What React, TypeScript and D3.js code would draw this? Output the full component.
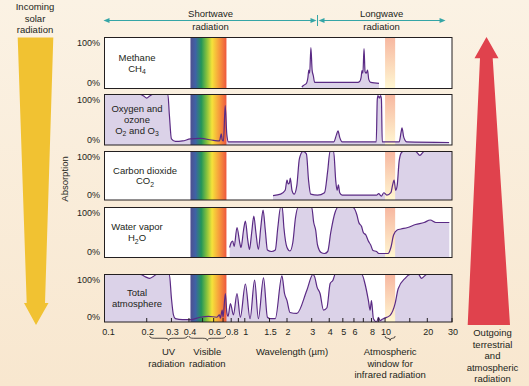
import { area, curveMonotoneX, line, scaleLinear, scaleLog, select } from "d3";
import React, { useEffect, useRef } from "react";

type Pt = [number, number];

// wavelength (µm), absorption (0-1)
const methane: Pt[] = [
    [2.55, 0.03], [2.62, 0.06], [2.75, 0.1], [2.82, 0.22], [2.86, 0.36], [2.9, 0.3],
    [2.96, 0.8], [3.02, 0.36], [3.08, 0.25], [3.15, 0.12], [3.3, 0.12], [6.4, 0.12],
    [6.6, 0.14], [6.75, 0.22], [6.85, 0.35], [6.95, 0.3], [7.08, 0.78], [7.2, 0.33],
    [7.35, 0.3], [7.5, 0.36], [7.65, 0.18], [7.9, 0.12], [9.05, 0.1],
];

const oxygenOzone: Pt[] = [
    [0.1, 1], [0.18, 1], [0.19, 0.97], [0.2, 0.93], [0.21, 0.97], [0.22, 1], [0.283, 1],
    [0.29, 0.6], [0.3, 0.12], [0.32, 0.07], [0.36, 0.08], [0.41, 0.12], [0.48, 0.13],
    [0.6, 0.09], [0.66, 0.08], [0.68, 0.22], [0.69, 0.1], [0.705, 0.08], [0.725, 0.78],
    [0.745, 0.2], [0.765, 0.06], [4.3, 0.06], [4.5, 0.2], [4.62, 0.28], [4.75, 0.15],
    [4.95, 0.06], [8.65, 0.06], [8.8, 0.9], [8.9, 0.98], [9.1, 0.93], [9.3, 0.98],
    [9.42, 0.9], [9.55, 0.06], [12.6, 0.06], [13.0, 0.25], [13.2, 0.34], [13.6, 0.15],
    [14.3, 0.06], [28.6, 0.05],
];

const carbonDioxide: Pt[] = [
    [1.59, 0.09], [1.8, 0.12], [1.94, 0.2], [2.0, 0.41], [2.04, 0.33], [2.08, 0.35],
    [2.11, 0.45], [2.17, 0.2], [2.25, 0.12], [2.35, 0.3], [2.45, 0.85], [2.6, 1.0],
    [2.75, 0.95], [2.85, 0.4], [2.95, 0.12], [3.3, 0.1], [3.7, 0.15], [3.9, 0.6],
    [4.05, 1.0], [4.3, 1.0], [4.45, 0.4], [4.55, 0.2], [4.65, 0.31], [4.75, 0.15],
    [4.95, 0.1], [8.7, 0.1], [9.0, 0.13], [9.4, 0.08], [9.8, 0.15], [10.3, 0.1],
    [11.0, 0.15], [11.3, 0.3], [11.6, 0.41], [11.9, 0.2], [12.2, 0.3], [12.6, 0.8],
    [13.1, 0.98], [13.5, 1], [16.5, 1], [17.7, 0.92], [19, 1], [30, 1],
];

const waterVapor: Pt[] = [
    [0.78, 0.2], [0.8, 0.3], [0.82, 0.33], [0.84, 0.22], [0.88, 0.6], [0.92, 0.3],
    [0.94, 0.2], [0.98, 0.55], [1.01, 0.73], [1.05, 0.35], [1.08, 0.16], [1.12, 0.5],
    [1.16, 0.83], [1.2, 0.5], [1.25, 0.16], [1.3, 0.6], [1.35, 0.95], [1.4, 0.55],
    [1.45, 0.15], [1.55, 0.12], [1.65, 0.15], [1.72, 0.6], [1.8, 1.0], [1.85, 1],
    [1.9, 0.6], [2.0, 0.2], [2.1, 0.13], [2.2, 0.3], [2.3, 0.8], [2.4, 1], [3.0, 1],
    [3.1, 0.7], [3.2, 0.55], [3.3, 0.25], [3.5, 0.1], [3.7, 0.08], [3.9, 0.12],
    [4.1, 0.5], [4.4, 0.9], [4.6, 1], [5.9, 1], [6.3, 0.85], [6.5, 0.7], [6.8, 0.62],
    [7.0, 0.5], [7.3, 0.45], [7.6, 0.33], [7.9, 0.25], [8.2, 0.14], [8.7, 0.12],
    [9.0, 0.08], [10.5, 0.08], [11.0, 0.2], [11.5, 0.45], [12.2, 0.55], [13.0, 0.57],
    [14.5, 0.6], [16.5, 0.66], [19, 0.7], [21, 0.75], [23, 0.7], [28.7, 0.7],
];

const totalAtmosphere: Pt[] = [
    [0.1, 1], [0.18, 1], [0.196, 0.95], [0.21, 0.92], [0.223, 0.96], [0.235, 1],
    [0.29, 1], [0.3, 0.5], [0.31, 0.15], [0.32, 0.07], [0.36, 0.05], [0.41, 0.05],
    [0.48, 0.1], [0.55, 0.12], [0.63, 0.1], [0.66, 0.15], [0.67, 0.08], [0.69, 0.25],
    [0.7, 0.1], [0.727, 0.6], [0.745, 0.2], [0.76, 0.12], [0.79, 0.39], [0.83, 0.15],
    [0.88, 0.6], [0.93, 0.1], [1.01, 0.8], [1.09, 0.07], [1.175, 0.88], [1.25, 0.07],
    [1.36, 0.93], [1.45, 0.1], [1.52, 0.07], [1.65, 0.07], [1.84, 0.97], [1.92, 0.6],
    [2.0, 0.45], [2.1, 0.2], [2.35, 0.18], [2.77, 0.67], [3.06, 1], [3.15, 0.95],
    [3.27, 0.74], [3.44, 0.6], [3.64, 0.25], [3.85, 0.3], [4.06, 0.81], [4.25, 0.88],
    [4.41, 1], [6.82, 1], [7.2, 0.8], [7.61, 0.45], [7.82, 0.25], [8.0, 0.45],
    [8.26, 0.07], [8.73, 0.0], [8.96, 0.1], [9.2, 0.03], [9.48, 0.05], [9.72, 0.07],
    [10.86, 0.14], [11.8, 0.39], [12.4, 0.7], [13.9, 0.92], [15.1, 1], [17.3, 1],
    [18.2, 0.92], [19.8, 1], [30, 1],
];

const series = [methane, oxygenOzone, carbonDioxide, waterVapor, totalAtmosphere];
const panelLabels = [
    ["Methane", "CH_4"],
    ["Oxygen and", "ozone", "O_2 and O_3"],
    ["Carbon dioxide", "CO_2"],
    ["Water vapor", "H_2O"],
    ["Total", "atmosphere"],
];

const tickValues = [0.2, 0.3, 0.4, 0.5, 0.6, 0.7, 0.8, 0.9, 1, 1.5, 2, 3, 4, 5, 6, 7, 8, 9, 10, 15, 20, 30];
const tickLabels = [0.1, 0.2, 0.3, 0.4, 0.6, 0.8, 1, 1.5, 2, 3, 4, 5, 6, 8, 10, 20, 30];

const visibleBand = [0.41, 0.74];
const windowBand = [10, 11.8];
const shortLong = [0.1, 3.3, 27];

const FONT = "'Liberation Sans', Arial, Helvetica, sans-serif";
const INK = "#231f20";

const App: React.FC = () => {
    const svgRef = useRef<SVGSVGElement>(null);

    useEffect(() => {
        const svg = select(svgRef.current);
        svg.selectAll("*").remove();

        const x = scaleLog().domain([0.1, 30]).range([104.5, 452]);
        const panels = [
            [37.5, 88.5],
            [94.5, 145],
            [151.5, 200],
            [207.5, 257.5],
            [274.5, 322],
        ];

        const defs = svg.append("defs");
        const bg = defs.append("linearGradient").attr("id", "bg")
            .attr("x1", 0).attr("y1", 0).attr("x2", 0).attr("y2", 1);
        bg.append("stop").attr("offset", "0%").attr("stop-color", "#fbf2e4");
        bg.append("stop").attr("offset", "100%").attr("stop-color", "#f8e7cf");

        const spec = defs.append("linearGradient").attr("id", "spectrum");
        [
            ["0%", "#4f4f8e"], ["14%", "#3f63a6"], ["30%", "#23955a"],
            ["46%", "#8cc43c"], ["60%", "#f5e23a"], ["78%", "#f7a23c"], ["100%", "#ee573e"],
        ].forEach(([o, c]) => spec.append("stop").attr("offset", o).attr("stop-color", c));

        const win = defs.append("linearGradient").attr("id", "window")
            .attr("x1", 0).attr("y1", 0).attr("x2", 0).attr("y2", 1);
        win.append("stop").attr("offset", "0%").attr("stop-color", "#f7b7a0");
        win.append("stop").attr("offset", "100%").attr("stop-color", "#fff7d2");

        svg.append("rect").attr("width", 529).attr("height", 386).attr("fill", "url(#bg)");

        // big arrows
        svg.append("path")
            .attr("d", "M17.7,37.5 L53.3,37.5 L45,303 L48.5,303 L36,325 L24,303 L26.7,303 Z")
            .attr("fill", "#f1c232");
        svg.append("path")
            .attr("d", "M486.5,37 L498.5,58.3 L492.7,58.3 L510,325 L467.7,325 L480,58.3 L474.5,58.3 Z")
            .attr("fill", "#e0424d");

        const textAt = (sel: any, str: string, tx: number, ty: number, size = 9.5, anchor = "middle") => {
            const t = sel.append("text").attr("x", tx).attr("y", ty)
                .attr("text-anchor", anchor).attr("font-size", size).attr("fill", INK);
            const parts = str.split(/_(\d)/);
            let sub = false;
            parts.forEach((p, i) => {
                if (i % 2 === 1) {
                    t.append("tspan").attr("font-size", size * 0.72).attr("dy", 2.5).text(p);
                    sub = true;
                } else if (p) {
                    t.append("tspan").attr("dy", sub ? -2.5 : 0).text(p);
                    sub = false;
                }
            });
            return t;
        };

        const lineSets: [string[], number, number][] = [
            [["Incoming", "solar", "radiation"], 35, 10],
            [["Outgoing", "terrestrial", "and", "atmospheric", "radiation"], 492.5, 336],
        ];
        lineSets.forEach(([ls, cx, y0]) =>
            ls.forEach((s, i) => textAt(svg, s, cx, y0 + i * 11.5)),
        );

        // shortwave / longwave arrows
        const ay = 20.5;
        const teal = "#34a5a6";
        const arrow = (x1: number, x2: number) => {
            svg.append("line").attr("x1", x1 + 3).attr("x2", x2 - 3)
                .attr("y1", ay).attr("y2", ay).attr("stroke", teal).attr("stroke-width", 1);
            svg.append("path").attr("d", `M${x1},${ay} L${x1 + 6},${ay - 2.5} L${x1 + 6},${ay + 2.5} Z`).attr("fill", teal);
            svg.append("path").attr("d", `M${x2},${ay} L${x2 - 6},${ay - 2.5} L${x2 - 6},${ay + 2.5} Z`).attr("fill", teal);
        };
        const xs = x(shortLong[0]) - 1, xm = x(shortLong[1]), xe = x(shortLong[2]);
        arrow(xs, xm - 1);
        arrow(xm + 1, xe);
        svg.append("line").attr("x1", xm).attr("x2", xm).attr("y1", 15).attr("y2", 26)
            .attr("stroke", teal).attr("stroke-width", 1);
        textAt(svg, "Shortwave", (xs + xm) / 2, 16.5);
        textAt(svg, "radiation", (xs + xm) / 2, 30);
        textAt(svg, "Longwave", (xm + xe) / 2, 16.5);
        textAt(svg, "radiation", (xm + xe) / 2, 30);

        svg.append("text").attr("transform", "translate(68,179) rotate(-90)")
            .attr("text-anchor", "middle").attr("font-size", 9.5).attr("fill", INK)
            .text("Absorption");

        series.forEach((data, i) => {
            const [top, bottom] = panels[i];
            const y = scaleLinear().domain([0, 1]).range([bottom, top]);
            const g = svg.append("g");
            const x0 = x(0.1), x1 = x(30);

            defs.append("clipPath").attr("id", `clip${i}`)
                .append("rect").attr("x", x0).attr("y", top).attr("width", x1 - x0).attr("height", bottom - top);

            g.append("rect").attr("x", x0).attr("y", top).attr("width", x1 - x0)
                .attr("height", bottom - top).attr("fill", "#fff");

            const inner = g.append("g").attr("clip-path", `url(#clip${i})`);
            const fillGen = area<Pt>().x(d => x(d[0])).y0(y(0)).y1(d => y(d[1])).curve(curveMonotoneX);
            const lineGen = line<Pt>().x(d => x(d[0])).y(d => y(d[1])).curve(curveMonotoneX);

            inner.append("path").datum(data).attr("d", fillGen as any).attr("fill", "#dbd2e8");
            inner.append("rect").attr("x", x(visibleBand[0])).attr("y", top)
                .attr("width", x(visibleBand[1]) - x(visibleBand[0])).attr("height", bottom - top)
                .attr("fill", "url(#spectrum)");
            inner.append("rect").attr("x", x(windowBand[0])).attr("y", top)
                .attr("width", x(windowBand[1]) - x(windowBand[0])).attr("height", bottom - top)
                .attr("fill", "url(#window)");
            inner.append("path").datum(data).attr("d", lineGen as any)
                .attr("fill", "none").attr("stroke", "#5a2a84").attr("stroke-width", 1.2);

            g.append("rect").attr("x", x0).attr("y", top).attr("width", x1 - x0)
                .attr("height", bottom - top).attr("fill", "none").attr("stroke", INK).attr("stroke-width", 1);

            const labels = panelLabels[i];
            const cx = i === 2 ? 145 : 137;
            const mid = (top + bottom) / 2;
            labels.forEach((s, j) => {
                textAt(g, s, cx, mid + 3.3 + (j - (labels.length - 1) / 2) * 10.8);
            });

            textAt(svg, "100%", 100, top + 8.5, 9, "end");
            textAt(svg, "0%", 100, bottom - 2.5, 9, "end");

            if (i === series.length - 1) {
                g.selectAll(".tick").data(tickValues).enter().append("line")
                    .attr("x1", d => x(d)).attr("x2", d => x(d))
                    .attr("y1", bottom).attr("y2", bottom - 4)
                    .attr("stroke", INK).attr("stroke-width", 1);
                g.selectAll(".tlabel").data(tickLabels).enter().append("text")
                    .attr("x", d => x(d) + (d === 0.1 ? 4 : 1))
                    .attr("y", bottom + 13)
                    .attr("text-anchor", "middle").attr("font-size", 9).attr("fill", INK)
                    .text(d => String(d));
            }
        });

        // braces under the axis
        const brace = (a: number, b: number, by: number, h: number) => {
            const m = (a + b) / 2;
            const hy = by + h / 2;
            const k = Math.min(h, (b - a) / 4);
            return `M${a},${by} Q${a},${hy} ${a + k},${hy} L${m - k},${hy} Q${m},${hy} ${m},${by + h} ` +
                `Q${m},${hy} ${m + k},${hy} L${b - k},${hy} Q${b},${hy} ${b},${by}`;
        };
        const braces: [number, number][] = [[0.21, 0.39], [0.4, 0.73], [windowBand[0], windowBand[1]]];
        braces.forEach(([a, b]) =>
            svg.append("path").attr("d", brace(x(a), x(b), 336, 4.5))
                .attr("fill", "none").attr("stroke", INK).attr("stroke-width", 0.8),
        );

        const uvX = (x(0.21) + x(0.39)) / 2;
        const visX = (x(0.4) + x(0.73)) / 2;
        const winX = (x(windowBand[0]) + x(windowBand[1])) / 2;
        textAt(svg, "UV", uvX, 355);
        textAt(svg, "radiation", uvX - 2, 366.5);
        textAt(svg, "Visible", visX, 355);
        textAt(svg, "radiation", visX, 366.5);
        textAt(svg, "Wavelength (\u00b5m)", 292, 355);
        textAt(svg, "Atmospheric", winX, 355);
        textAt(svg, "window for", winX, 366.5);
        textAt(svg, "infrared radiation", winX, 378);
    }, []);

    return (
        <svg
            ref={svgRef}
            width={529}
            height={386}
            style={{ position: "absolute", left: 0, top: 0, fontFamily: FONT }}
        />
    );
};

export default App;
